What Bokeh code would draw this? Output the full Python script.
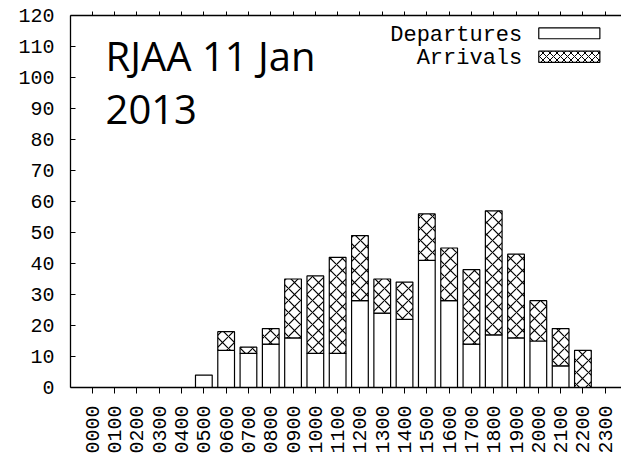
import math
from bokeh.plotting import figure
from bokeh.models import (Range1d, LinearAxis, FixedTicker, Label, BoxAnnotation)
from bokeh.embed import file_html
from bokeh.resources import INLINE

# Hourly movements at RJAA on 11 Jan 2013
hours = list(range(24))
hour_labels = ["%02d00" % h for h in hours]
departures = [0, 0, 0, 0, 0, 4, 12, 11, 14, 16, 11, 11, 28, 24, 22, 41, 28, 14, 17, 16, 15, 7, 0, 0]
arrivals = [0, 0, 0, 0, 0, 0, 6, 2, 5, 19, 25, 31, 21, 11, 12, 15, 17, 24, 40, 27, 13, 12, 12, 0]
y_ticks = list(range(0, 121, 10))

MONO = "Liberation Mono"

p = figure(width=621, height=463, output_backend="svg", toolbar_location=None,
           x_range=Range1d(-0.98, 23.73), y_range=Range1d(0, 120),
           x_axis_location=None, y_axis_location=None,
           min_border_left=70, min_border_right=0, min_border_top=15, min_border_bottom=76)
p.outline_line_color = None
p.grid.visible = False
p.background_fill_color = "white"
p.border_fill_color = "white"

bottom = LinearAxis(ticker=FixedTicker(ticks=hours))
bottom.major_label_overrides = {h: lab for h, lab in zip(hours, hour_labels)}
bottom.major_label_orientation = math.pi / 2
bottom.major_tick_in = 0
bottom.major_tick_out = 6
bottom.minor_tick_line_color = None
bottom.major_label_standoff = 12
p.add_layout(bottom, "below")

# mirrored hour ticks along the top edge, without labels
top = LinearAxis(ticker=FixedTicker(ticks=hours))
top.major_label_overrides = {h: "" for h in hours}
top.major_tick_in = 0
top.major_tick_out = 4
top.major_label_standoff = 0
top.minor_tick_line_color = None
p.add_layout(top, "above")

left = LinearAxis(ticker=FixedTicker(ticks=y_ticks))
left.major_tick_in = 5
left.major_tick_out = 0
left.minor_tick_line_color = None
left.major_label_standoff = 16
p.add_layout(left, "left")

for ax in (bottom, top, left):
    ax.axis_line_color = "black"
    ax.axis_line_width = 1.3
    ax.major_tick_line_color = "black"
    ax.major_tick_line_width = 1
    ax.major_label_text_font = MONO
    ax.major_label_text_color = "black"
    ax.major_label_text_font_size = "20px"

# Stacked bars: departures underneath, arrivals hatched on top
dep_x = [h for h, d in zip(hours, departures) if d > 0]
dep_top = [d for d in departures if d > 0]
p.vbar(x=dep_x, bottom=0, top=dep_top, width=0.75,
       fill_color="white", line_color="black", line_width=1.2)

arr_x = [h for h, a in zip(hours, arrivals) if a > 0]
arr_bottom = [d for d, a in zip(departures, arrivals) if a > 0]
arr_top = [d + a for d, a in zip(departures, arrivals) if a > 0]
p.vbar(x=arr_x, bottom=arr_bottom, top=arr_top, width=0.75,
       fill_color="white", line_color="black", line_width=1.2,
       hatch_pattern="diagonal_cross", hatch_color="black",
       hatch_scale=12, hatch_weight=1.2)

# Title text inside the plot
p.add_layout(Label(x=0.59, y=107.2, text="RJAA 11 Jan", text_font="Open Sans",
                   text_font_size="40px", text_color="black",
                   text_baseline="alphabetic", text_align="left"))
p.add_layout(Label(x=0.59, y=89.7, text="2013", text_font="Open Sans",
                   text_font_size="40px", text_color="black",
                   text_baseline="alphabetic", text_align="left"))

# Key: right-aligned labels followed by sample boxes
p.add_layout(Label(x=19.28, y=113.6, text="Departures", text_font=MONO,
                   text_font_size="22px", text_color="black",
                   text_baseline="alphabetic", text_align="right"))
p.add_layout(Label(x=19.28, y=106.1, text="Arrivals", text_font=MONO,
                   text_font_size="22px", text_color="black",
                   text_baseline="alphabetic", text_align="right"))
p.add_layout(BoxAnnotation(left=20.02, right=22.76, bottom=112.5, top=116.0,
                           fill_color="white", fill_alpha=1,
                           line_color="black", line_width=1.2, line_alpha=1))
p.add_layout(BoxAnnotation(left=20.02, right=22.76, bottom=104.9, top=108.5,
                           fill_color="white", fill_alpha=1,
                           line_color="black", line_width=1.2, line_alpha=1,
                           hatch_pattern="diagonal_cross", hatch_color="black",
                           hatch_scale=7, hatch_weight=1, hatch_alpha=1))

open("out.html", "w").write(file_html(p, INLINE))
